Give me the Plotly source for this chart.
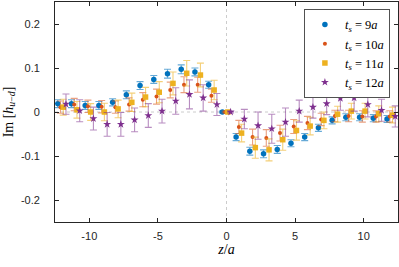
import plotly.graph_objects as go

z = list(range(-12, 13))

# Im[h_{u-d}] for each source-sink separation
ts9 = [0.019, 0.019, 0.015, 0.015, 0.022, 0.039, 0.060, 0.074, 0.087, 0.097, 0.091, 0.062, 0.0,
       -0.057, -0.089, -0.095, -0.085, -0.071, -0.057, -0.036, -0.019, -0.012, -0.012, -0.014, -0.016]
ts9_err = [0.009, 0.009, 0.009, 0.009, 0.008, 0.009, 0.009, 0.009, 0.010, 0.010, 0.009, 0.008, 0.002,
           0.008, 0.009, 0.009, 0.009, 0.008, 0.008, 0.008, 0.008, 0.008, 0.008, 0.008, 0.008]

ts10 = [0.011, 0.017, 0.013, 0.012, 0.011, 0.017, 0.028, 0.035, 0.050, 0.062, 0.062, 0.037, 0.0,
        -0.034, -0.057, -0.059, -0.048, -0.033, -0.025, -0.017, -0.009, -0.009, -0.010, -0.010, -0.010]
ts10_err = [0.014, 0.014, 0.014, 0.014, 0.014, 0.015, 0.016, 0.017, 0.018, 0.018, 0.017, 0.015, 0.002,
            0.015, 0.018, 0.019, 0.018, 0.016, 0.015, 0.014, 0.013, 0.013, 0.013, 0.013, 0.013]

ts11 = [0.011, 0.005, 0.0, 0.0, 0.007, 0.022, 0.034, 0.045, 0.065, 0.088, 0.084, 0.050, 0.0,
        -0.048, -0.081, -0.086, -0.063, -0.042, -0.032, -0.019, -0.005, 0.002, 0.002, -0.004, -0.007]
ts11_err = [0.018, 0.019, 0.019, 0.020, 0.020, 0.021, 0.022, 0.024, 0.026, 0.029, 0.027, 0.022, 0.002,
            0.020, 0.024, 0.025, 0.024, 0.022, 0.020, 0.019, 0.018, 0.018, 0.018, 0.018, 0.018]

ts12 = [0.018, 0.003, -0.015, -0.028, -0.028, -0.018, -0.008, 0.002, 0.025, 0.040, 0.032, 0.017, 0.0,
        -0.016, -0.031, -0.038, -0.023, 0.002, 0.011, 0.019, 0.031, 0.032, 0.017, 0.004, -0.010]
ts12_err = [0.023, 0.025, 0.026, 0.027, 0.027, 0.027, 0.027, 0.027, 0.030, 0.033, 0.030, 0.025, 0.002,
            0.022, 0.031, 0.033, 0.032, 0.025, 0.025, 0.025, 0.027, 0.030, 0.028, 0.025, 0.024]

labels = ["9", "10", "11", "12"]
x_tickvals = [-10, -5, 0, 5, 10]
x_ticktext = ["-10", "-5", "0", "5", "10"]
y_tickvals = [-0.2, -0.1, 0, 0.1, 0.2]
y_ticktext = ["-0.2", "-0.1", "0", "0.1", "0.2"]

series = [
    (ts9, ts9_err, -0.3, "#0072BD", "rgba(0,114,189,0.6)", "circle", 5.5),
    (ts10, ts10_err, -0.1, "#D95319", "rgba(217,83,25,0.55)", "circle", 4),
    (ts11, ts11_err, 0.1, "#EDB120", "rgba(237,177,32,0.6)", "square", 5.5),
    (ts12, ts12_err, 0.3, "#7E2F8E", "rgba(126,47,142,0.55)", "star", 6),
]

fig = go.Figure()
for (vals, errs, off, col, ecol, sym, sz), lab in zip(series, labels):
    fig.add_trace(go.Scatter(
        x=[v + off for v in z], y=vals, mode="markers",
        marker=dict(color=col, symbol=sym, size=sz, line=dict(width=0)),
        error_y=dict(type="data", array=errs, visible=True, color=ecol, thickness=1.1, width=3.5),
        name="<i>t<sub>s</sub></i> = " + lab + "<i>a</i>",
    ))

# dotted reference lines
fig.add_shape(type="line", xref="paper", yref="y", x0=0, x1=1, y0=0, y1=0,
              line=dict(color="#cccccc", width=1, dash="dot"), layer="below")
fig.add_shape(type="line", xref="x", yref="paper", x0=0, x1=0, y0=0, y1=1,
              line=dict(color="#cccccc", width=1, dash="dot"), layer="below")

axis_common = dict(showline=True, linecolor="#262626", linewidth=0.8, mirror="ticks",
                   ticks="inside", ticklen=4, tickcolor="#262626", tickwidth=0.8,
                   showgrid=False, zeroline=False, automargin=False,
                   tickfont=dict(family="Liberation Sans, Arial", size=11, color="#262626"))

fig.update_layout(
    width=399, height=267,
    margin=dict(l=55, r=1, t=2, b=45),
    paper_bgcolor="white", plot_bgcolor="white",
    showlegend=True,
    legend=dict(x=0.977, y=0.968, xanchor="right", yanchor="top",
                bgcolor="white", bordercolor="#262626", borderwidth=0.8,
                font=dict(family="Liberation Serif, Times New Roman", size=12.5, color="black"),
                tracegroupgap=0, entrywidth=62, entrywidthmode="pixels"),
    xaxis=dict(range=[-12.5, 12.5], tickvals=x_tickvals, ticktext=x_ticktext,
               ticklabelstandoff=4,
               title=dict(text="<i>z</i>/<i>a</i>", standoff=2,
                          font=dict(family="Liberation Serif, Times New Roman", size=14, color="black")),
               **axis_common),
    yaxis=dict(range=[-0.25, 0.25], tickvals=y_tickvals, ticktext=y_ticktext,
               ticklabelstandoff=12,
               title=dict(text="Im [<i>h</i><sub><i>u</i>−<i>d</i></sub>]", standoff=4,
                          font=dict(family="Liberation Serif, Times New Roman", size=14, color="black")),
               **axis_common),
)

fig.write_html("out.html", config={"displayModeBar": False},
               post_script="document.body.style.margin='0px';")
